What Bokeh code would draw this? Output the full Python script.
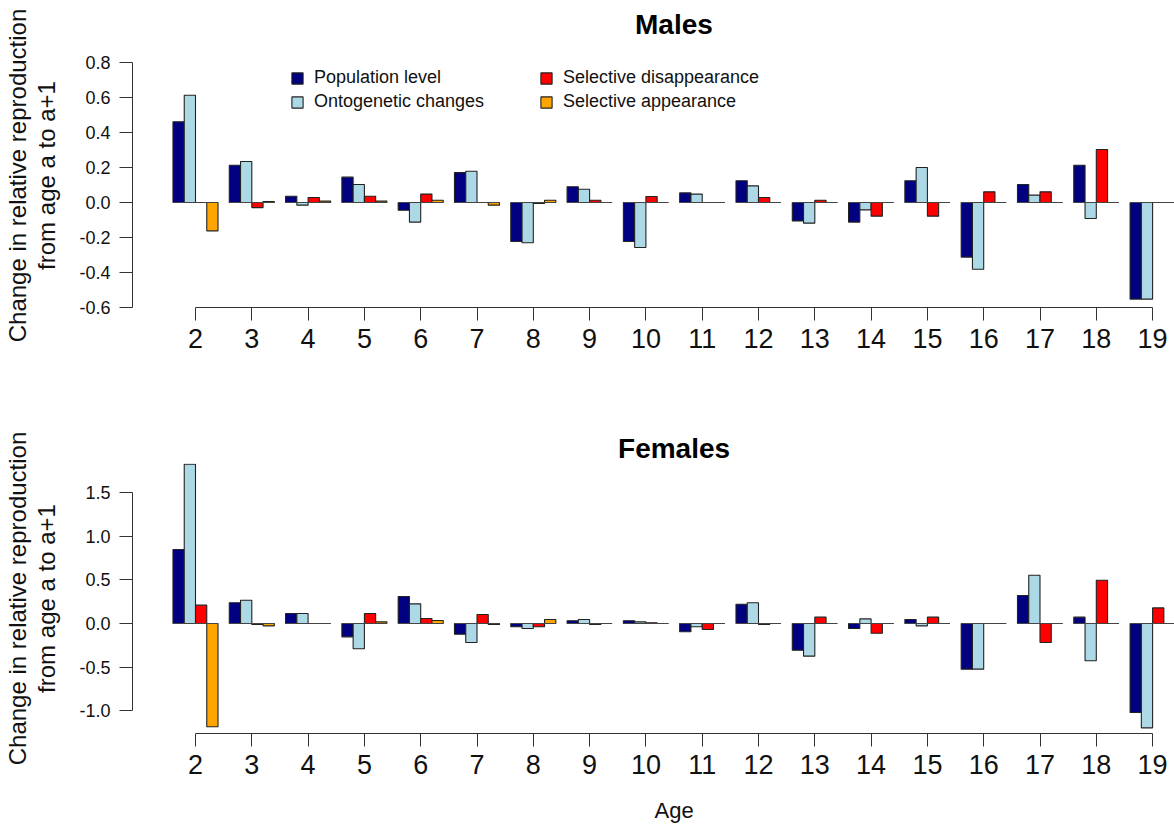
from bokeh.plotting import figure
from bokeh.layouts import column
from bokeh.models import (Range1d, FixedTicker, Legend, LegendItem, NumeralTickFormatter,
                          ColumnDataSource, Title)
from bokeh.embed import file_html
from bokeh.resources import INLINE

# ---------------- data ----------------
ages = list(range(2, 20))
series_names = ["Population level", "Ontogenetic changes",
                "Selective disappearance", "Selective appearance"]
series_colors = ["#000080", "#ADD8E6", "#FF0000", "#FFA500"]

males_population = [0.461, 0.213, 0.036, 0.145, -0.044, 0.171, -0.223, 0.090, -0.223,
                    0.055, 0.124, -0.105, -0.112, 0.124, -0.312, 0.103, 0.213, -0.552]
males_ontogenetic = [0.613, 0.234, -0.015, 0.103, -0.112, 0.179, -0.230, 0.076, -0.257,
                     0.048, 0.095, -0.118, -0.042, 0.200, -0.381, 0.042, -0.091, -0.552]
males_disappearance = [0.0, -0.029, 0.029, 0.036, 0.048, 0.0, -0.005, 0.013, 0.034,
                       0.0, 0.029, 0.013, -0.078, -0.078, 0.061, 0.061, 0.303, 0.0]
males_appearance = [-0.162, 0.006, 0.008, 0.008, 0.013, -0.015, 0.013, 0.0, 0.0,
                    0.0, 0.0, 0.0, 0.0, 0.0, 0.0, 0.0, 0.0, 0.0]

females_population = [0.847, 0.237, 0.115, -0.153, 0.309, -0.122, -0.038, 0.031, 0.031,
                      -0.095, 0.221, -0.305, -0.057, 0.046, -0.523, 0.321, 0.073, -1.019]
females_ontogenetic = [1.824, 0.267, 0.115, -0.290, 0.225, -0.218, -0.057, 0.046, 0.019,
                       -0.038, 0.237, -0.374, 0.053, -0.027, -0.523, 0.553, -0.427, -1.195]
females_disappearance = [0.210, -0.011, 0.0, 0.115, 0.057, 0.103, -0.038, -0.011, 0.008,
                         -0.069, -0.011, 0.073, -0.111, 0.073, 0.0, -0.218, 0.496, 0.179]
females_appearance = [-1.183, -0.027, 0.0, 0.019, 0.034, -0.011, 0.046, 0.0, 0.0,
                      0.0, 0.0, 0.0, 0.0, 0.0, 0.0, 0.0, 0.0, 0.0]

males_yticks = [-0.6, -0.4, -0.2, 0.0, 0.2, 0.4, 0.6, 0.8]
females_yticks = [-1.0, -0.5, 0.0, 0.5, 1.0, 1.5]

# ---------------- layout constants ----------------
FONT = "Liberation Sans"
TXT = "#111111"
W = 1166
LEFT = 124
FRAME_W = W - LEFT
PX_PER_AGE = 56.3
AGE2_PX = 63.0              # position of age 2 inside the frame
BAR_W = 0.2
OFFSETS = [-0.3, -0.1, 0.1, 0.3]
CENTER_PX = AGE2_PX + PX_PER_AGE * (ages[-1] - ages[0]) / 2   # centre of the age span

x_start = ages[0] - AGE2_PX / PX_PER_AGE
x_end = x_start + FRAME_W / PX_PER_AGE
ylabel = "Change in relative reproduction\nfrom age a to a+1"


def make_panel(values, title, title_w, title_standoff, yticks, height, top_border,
               bottom_border, px_per_unit, y_bottom, legend=False, xlabel=None):
    frame_h = height - top_border - bottom_border
    y_top = y_bottom + frame_h / px_per_unit
    p = figure(width=W, height=height, output_backend="svg", toolbar_location=None,
               x_range=Range1d(x_start, x_end), y_range=Range1d(y_bottom, y_top),
               min_border_left=LEFT, min_border_right=0, min_border_top=top_border,
               min_border_bottom=bottom_border, frame_width=FRAME_W, frame_height=frame_h)
    p.outline_line_color = None
    p.xgrid.visible = False
    p.ygrid.visible = False
    p.background_fill_color = "white"

    renderers = []
    for vals, off, col in zip(values, OFFSETS, series_colors):
        src = ColumnDataSource(dict(x=[a + off for a in ages], top=vals,
                                    bottom=[0.0] * len(vals)))
        r = p.vbar(x="x", top="top", bottom="bottom", width=BAR_W, source=src,
                   fill_color=col, line_color="#222222", line_width=1.1)
        renderers.append(r)
    # zero line across each age group
    p.segment(x0=[a - 2 * BAR_W for a in ages], x1=[a + 2 * BAR_W for a in ages],
              y0=[0.0] * len(ages), y1=[0.0] * len(ages), line_color="#444444", line_width=1.1)

    # panel title, centred on the age span
    p.title = Title(text=title, text_font=FONT, text_font_size="28px", text_font_style="bold",
                    text_color="black", align="left", vertical_align="bottom",
                    offset=CENTER_PX - title_w / 2, standoff=title_standoff)

    # axes
    xa = p.xaxis[0]
    xa.ticker = FixedTicker(ticks=ages)
    xa.bounds = (ages[0], ages[-1])
    xa.major_tick_out = 13
    xa.major_tick_in = 0
    xa.minor_tick_line_color = None
    xa.axis_line_color = "#333333"
    xa.major_tick_line_color = "#333333"
    xa.major_label_text_font = FONT
    xa.major_label_text_font_size = "27px"
    xa.major_label_text_color = TXT
    xa.major_label_standoff = 8
    if xlabel:
        # axis title centred on the age span
        t = Title(text=xlabel, text_font=FONT, text_font_size="22px",
                  text_font_style="normal", text_color=TXT, align="left",
                  vertical_align="top", offset=CENTER_PX - 39.0 / 2, standoff=0)
        try:
            t.padding = dict(left=0, right=0, top=21, bottom=0)
        except Exception:
            t.standoff = 20
        p.add_layout(t, "below")

    ya = p.yaxis[0]
    ya.ticker = FixedTicker(ticks=yticks)
    ya.bounds = (yticks[0], yticks[-1])
    ya.formatter = NumeralTickFormatter(format="0.0")
    ya.major_tick_out = 13
    ya.major_tick_in = 0
    ya.minor_tick_line_color = None
    ya.axis_line_color = "#333333"
    ya.major_tick_line_color = "#333333"
    ya.major_label_text_font = FONT
    ya.major_label_text_font_size = "18px"
    ya.major_label_text_color = TXT
    ya.major_label_standoff = 9
    ya.axis_label = ylabel
    ya.axis_label_text_font = FONT
    ya.axis_label_text_font_size = "24px"
    ya.axis_label_text_font_style = "normal"
    ya.axis_label_text_line_height = 1.1
    ya.axis_label_text_color = TXT
    ya.axis_label_standoff = 16

    if legend:
        common = dict(glyph_width=14, glyph_height=14, label_standoff=10,
                      label_text_font=FONT, label_text_font_size="18px",
                      label_text_color=TXT, label_height=21, spacing=3,
                      padding=0, margin=0, border_line_color=None,
                      background_fill_alpha=0)
        leg_y = frame_h + top_border - 112
        leg1 = Legend(items=[LegendItem(label=series_names[i], renderers=[renderers[i]])
                             for i in (0, 1)], location=(158, leg_y), **common)
        leg2 = Legend(items=[LegendItem(label=series_names[i], renderers=[renderers[i]])
                             for i in (2, 3)], location=(407, leg_y), **common)
        p.add_layout(leg1, "center")
        p.add_layout(leg2, "center")
    return p


males = make_panel([males_population, males_ontogenetic, males_disappearance, males_appearance],
                   "Males", 78.0, 8, males_yticks, height=400, top_border=43, bottom_border=93,
                   px_per_unit=175.0, y_bottom=-0.6, legend=True)
females = make_panel([females_population, females_ontogenetic, females_disappearance,
                      females_appearance],
                     "Females", 112.0, 0, females_yticks, height=422, top_border=63,
                     bottom_border=89, px_per_unit=87.3, y_bottom=-1.26, xlabel="Age")

layout = column(males, females)
open("out.html", "w").write(file_html(layout, INLINE))
